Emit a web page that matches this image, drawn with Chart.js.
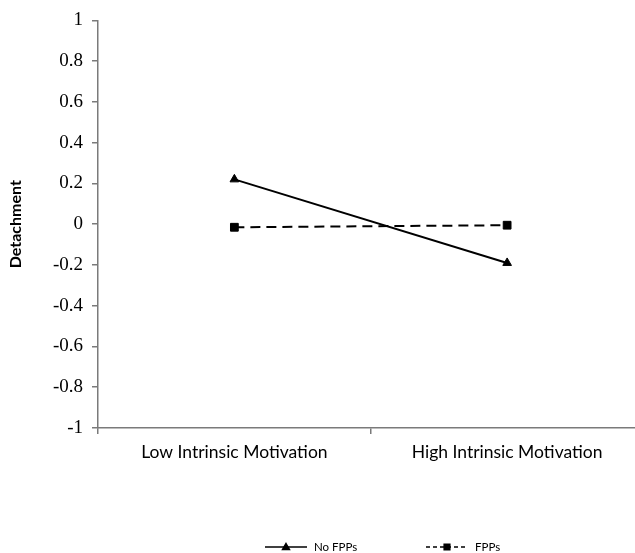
<!DOCTYPE html>
<html>
<head>
<meta charset="utf-8">
<script src="https://cdn.jsdelivr.net/npm/chart.js@4.4.1/dist/chart.umd.min.js"></script>
<style>
  html, body { margin: 0; padding: 0; background: #fff; overflow: hidden; }
  #wrap { width: 635px; height: 553px; overflow: hidden; }
</style>
</head>
<body>
<div id="wrap"><canvas id="chart" width="650" height="553"></canvas></div>
<script>
// data
const categories = ['Low Intrinsic Motivation', 'High Intrinsic Motivation'];
const noFpps = [0.22, -0.19];
const fpps = [-0.015, -0.005];
const yTicks = [1, 0.8, 0.6, 0.4, 0.2, 0, -0.2, -0.4, -0.6, -0.8, -1];
const yTitle = 'Detachment';

const axisGray = '#7a7a7a';

// legend drawn under the plot, Excel style (line + marker + text)
const bottomLegend = {
  id: 'bottomLegend',
  afterDraw(chart) {
    const ctx = chart.ctx;
    const y = 547;
    const items = [
      { x: 265, w: 42, ds: chart.data.datasets[0], dash: [] },
      { x: 426, w: 42, ds: chart.data.datasets[1], dash: [4, 3] }
    ];
    ctx.save();
    items.forEach(it => {
      ctx.strokeStyle = '#000';
      ctx.lineWidth = 1.5;
      ctx.setLineDash(it.dash);
      ctx.beginPath();
      ctx.moveTo(it.x, y);
      ctx.lineTo(it.x + it.w, y);
      ctx.stroke();
      ctx.setLineDash([]);
      Chart.helpers.drawPoint(ctx, {
        pointStyle: it.ds.pointStyle, radius: 4, borderWidth: 1
      }, it.x + it.w / 2, y + (it.ds.pointStyle === 'triangle' ? 0.5 : 0));
      ctx.fillStyle = '#000';
      ctx.font = '11.5px Lato';
      ctx.textBaseline = 'middle';
      ctx.fillText(it.ds.label, it.x + it.w + 7, y);
    });
    ctx.restore();
  }
};

new Chart(document.getElementById('chart'), {
  type: 'line',
  data: {
    labels: categories,
    datasets: [
      {
        label: 'No FPPs',
        data: noFpps,
        borderColor: '#000',
        backgroundColor: '#000',
        borderWidth: 2,
        pointStyle: 'triangle',
        pointRadius: 5,
        pointBorderWidth: 1,
        fill: false
      },
      {
        label: 'FPPs',
        data: fpps,
        borderColor: '#000',
        backgroundColor: '#000',
        borderWidth: 2,
        borderDash: [10, 6],
        pointStyle: 'rect',
        pointRadius: 5.5,
        pointBorderWidth: 1,
        fill: false
      }
    ]
  },
  options: {
    responsive: false,
    animation: false,
    layout: { padding: { top: 18, left: 0, right: 0, bottom: 0 } },
    plugins: {
      legend: { display: false },
      tooltip: { enabled: false }
    },
    scales: {
      x: {
        offset: true,
        grid: {
          offset: true,
          drawOnChartArea: false,
          drawTicks: true,
          tickLength: 6,
          color: axisGray,
          lineWidth: 1.5
        },
        border: { display: true, color: axisGray, width: 1.5 },
        ticks: {
          color: '#000',
          font: { family: 'Lato', size: 17.5 },
          padding: 8,
          maxRotation: 0
        },
        afterFit(scale) { scale.height = 125; }
      },
      y: {
        min: -1,
        max: 1,
        afterBuildTicks(scale) {
          scale.ticks = yTicks.map(v => ({ value: v }));
        },
        grid: {
          drawOnChartArea: false,
          drawTicks: true,
          tickLength: 6,
          color: axisGray,
          lineWidth: 1.5
        },
        border: { display: true, color: axisGray, width: 1.5 },
        ticks: {
          color: '#000',
          font: { family: 'Liberation Serif', size: 19 },
          padding: 9,
          callback: v => String(v)
        },
        title: {
          display: true,
          text: yTitle,
          color: '#000',
          font: { family: 'Lato', size: 16, weight: 'bold' },
          padding: { top: 6, bottom: 0 }
        },
        afterFit(scale) { scale.width = 98; }
      }
    }
  },
  plugins: [bottomLegend]
});
</script>
</body>
</html>
